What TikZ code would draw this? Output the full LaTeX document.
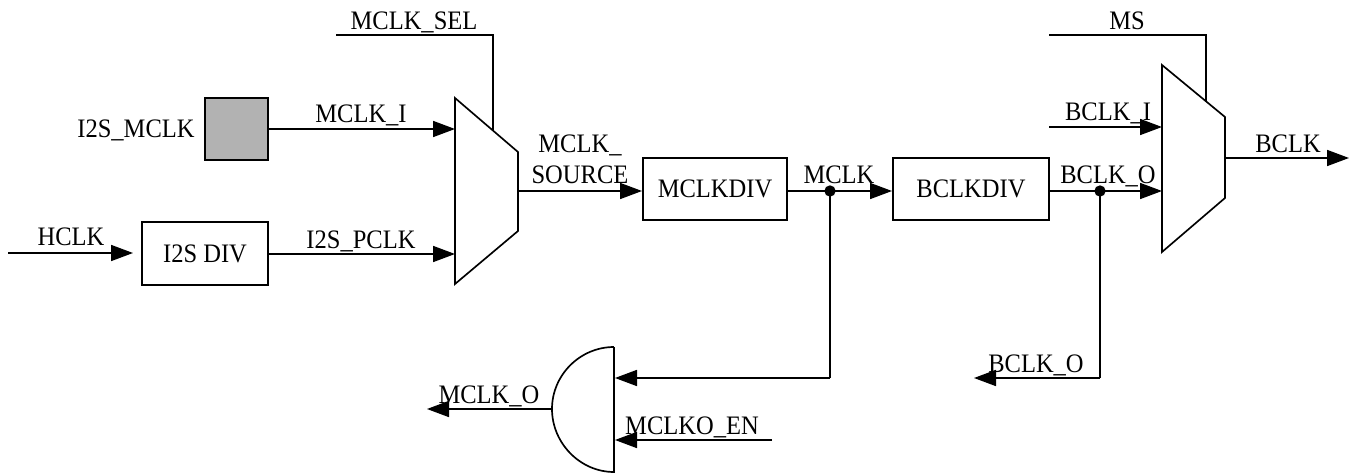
\documentclass[tikz,border=0pt]{standalone}
\usepackage{fontspec}
\setmainfont[FakeStretch=0.92]{Liberation Serif}
\usetikzlibrary{arrows.meta}
\tikzset{
  wire/.style={line width=1.25pt,black},
  sig/.style={wire,-{Triangle[length=16.5pt,width=12pt]},shorten >=0pt},
  blockbox/.style={draw=black,line width=1.25pt,inner sep=0pt,anchor=center,font=\fontsize{20}{22}\selectfont},
  lab/.style={inner sep=0pt,anchor=base,font=\fontsize{20}{22}\selectfont,align=center},
  junction/.style={circle,fill=black,inner sep=0pt,minimum size=8.5pt},
  shapeline/.style={line width=1.25pt,black,line join=miter}
}
\begin{document}
\begin{tikzpicture}[x=0.75pt,y=-0.75pt]
\useasboundingbox (0,0) rectangle (1354,474);
% blocks
\node[blockbox,fill=black!30,minimum width=47.25pt,minimum height=46.5pt] (mclkpad) at (236.5,129) {};
\node[blockbox,minimum width=94.5pt,minimum height=47.25pt] (i2sdiv) at (205,253.5) {I2S DIV};
\node[blockbox,minimum width=108pt,minimum height=46.5pt] (mclkdiv) at (715,189) {MCLKDIV};
\node[blockbox,minimum width=117pt,minimum height=46.5pt] (bclkdiv) at (971,189) {BCLKDIV};
% muxes
\draw[shapeline] (455,98) -- (518,152) -- (518,231) -- (455,284) -- cycle;
\draw[shapeline] (1162,65) -- (1225,117) -- (1225,198) -- (1162,252) -- cycle;
% AND gate
\coordinate (gatetop) at (614,347);
\coordinate (gatebot) at (614,472);
\coordinate (gateleft) at (552,409);
\draw[shapeline] (gatetop) -- (gatebot)
  .. controls (580,472) and (552,443) .. (gateleft)
  .. controls (552,375) and (580,347) .. (gatetop);
% free ends and mux pins
\coordinate (selstart) at (336,35);
\coordinate (selcorner) at (493,35);
\coordinate (selend) at (493,130);
\coordinate (m1a) at (455,129);
\coordinate (m1b) at (455,254);
\coordinate (m1out) at (518,191);
\coordinate (hclkstart) at (8,253);
\coordinate (hclkend) at (133,253);
\coordinate (mdivin) at (642,191);
\coordinate (mdivout) at (787,191);
\coordinate (bdivin) at (892,191);
\coordinate (bdivout) at (1049,191);
\coordinate (gatein) at (615,378);
\coordinate (mcorner) at (830,378);
\coordinate (enin) at (615,440);
\coordinate (enstart) at (772,440);
\coordinate (mcklo) at (427,409);
\coordinate (msstart) at (1049,35);
\coordinate (mscorner) at (1206,35);
\coordinate (msend) at (1206,101);
\coordinate (bistart) at (1049,127);
\coordinate (m2a) at (1162,127);
\coordinate (m2b) at (1162,191);
\coordinate (bcorner) at (1100,378);
\coordinate (bo) at (974,378);
\coordinate (m2out) at (1225,158);
\coordinate (bclkend) at (1349,158);
% junctions
\node[junction] (jm) at (830,191) {};
\node[junction] (jb) at (1100,191) {};
% connectors
\draw[wire] (selstart) -- (selcorner) -- (selend);
\draw[sig] (mclkpad.east) -- (m1a);
\draw[sig] (i2sdiv.east |- m1b) -- (m1b);
\draw[sig] (hclkstart) -- (hclkend);
\draw[sig] (m1out) -- (mdivin);
\draw[wire] (mdivout) -- (jm.center);
\draw[sig] (jm.center) -- (bdivin);
\draw[wire] (jm.center) -- (mcorner);
\draw[sig] (mcorner) -- (gatein);
\draw[sig] (enstart) -- (enin);
\draw[sig] (gateleft) -- (mcklo);
\draw[wire] (msstart) -- (mscorner) -- (msend);
\draw[sig] (bistart) -- (m2a);
\draw[wire] (bdivout) -- (jb.center);
\draw[sig] (jb.center) -- (m2b);
\draw[wire] (jb.center) -- (bcorner);
\draw[sig] (bcorner) -- (bo);
\draw[sig] (m2out) -- (bclkend);
% labels
\node[lab] (tsel) at (414,30) {MCLK\_SEL};
\node[lab] (tpad) at (136,138) {I2S\_MCLK};
\node[lab] (tmi) at (361,123) {MCLK\_I};
\node[lab] (tsrc1) at (580,153) {MCLK\_};
\node[lab] (tsrc2) at (580,184) {SOURCE};
\node[lab] (thclk) at (71,246) {HCLK};
\node[lab] (tpclk) at (361,248) {I2S\_PCLK};
\node[lab] (tmclk) at (839,184) {MCLK};
\node[lab] (tmo) at (489,403) {MCLK\_O};
\node[lab] (ten) at (692,434) {MCLKO\_EN};
\node[lab] (tms) at (1127,30) {MS};
\node[lab] (tbi) at (1108,121) {BCLK\_I};
\node[lab] (tbq) at (1108,184) {BCLK\_O};
\node[lab] (tbo) at (1036,372) {BCLK\_O};
\node[lab] (tbclk) at (1288,153) {BCLK};
\end{tikzpicture}
\end{document}
